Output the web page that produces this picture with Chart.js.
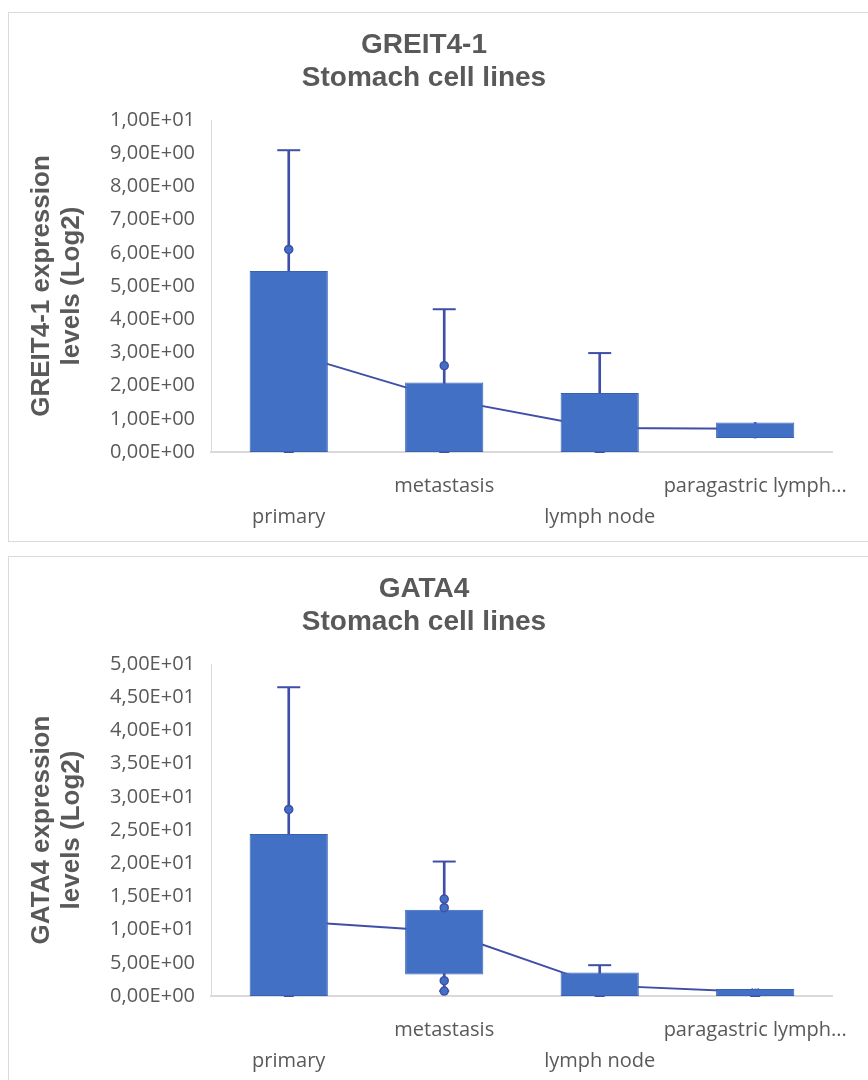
<!DOCTYPE html>
<html>
<head>
<meta charset="utf-8">
<script src="https://cdn.jsdelivr.net/npm/chart.js@4.4.1/dist/chart.umd.min.js"></script>
<style>
  body { margin: 0; background: #fff; overflow: hidden; }
  .panel { position: absolute; left: 8px; width: 880px; border: 1px solid #d9d9d9; background: #fff; }
  .panel canvas { display: block; }
  #panel1 { top: 12px; height: 528px; }
  #panel2 { top: 556px; height: 600px; }
</style>
</head>
<body>
<div class="panel" id="panel1"><canvas id="greitChart" width="860" height="528"></canvas></div>
<div class="panel" id="panel2"><canvas id="gataChart" width="860" height="528"></canvas></div>
<script>
const categories = ['primary', 'metastasis', 'lymph node', 'paragastric lymph node'];

// GREIT4-1 box & whisker stats
const greitMin = [0, 0, 0, 0.42];
const greitQ1 = [0, 0, 0, 0.42];
const greitQ3 = [5.45, 2.09, 1.78, 0.89];
const greitMax = [9.09, 4.3, 2.98, 0.89];
const greitMean = [3.0, 1.6, 0.72, 0.7];
const greitPoints = [
    { x: 'primary', y: 6.1 },
    { x: 'metastasis', y: 2.6 }
];

// GATA4 box & whisker stats
const gataMin = [0, 0.75, 0, 0];
const gataQ1 = [0, 3.25, 0, 0];
const gataQ3 = [24.4, 13.0, 3.55, 1.05];
const gataMax = [46.5, 20.25, 4.64, 1.05];
const gataMean = [11.3, 9.75, 1.6, 0.6];
const gataPoints = [
    { x: 'primary', y: 28.1 },
    { x: 'metastasis', y: 14.6 },
    { x: 'metastasis', y: 13.3 },
    { x: 'metastasis', y: 2.3 },
    { x: 'metastasis', y: 0.75 }
];

const BOX = '#4270C4';
const EDGE = '#3A60B6';
const LINE = '#3F4FA8';
const TEXT = '#595959';
const AXIS = '#d9d9d9';

// 1,00E+01 style labels
function sciLabel(value) {
    if (value === 0) return '0,00E+00';
    const exp = Math.floor(Math.log10(Math.abs(value)) + 1e-9);
    const mant = value / Math.pow(10, exp);
    const sign = exp < 0 ? '-' : '+';
    return mant.toFixed(2).replace('.', ',') + 'E' + sign + String(Math.abs(exp)).padStart(2, '0');
}

function buildChart(canvasId, titleLines, axisTitle, yMax, yStep, s) {
    const ctx = document.getElementById(canvasId).getContext('2d');
    // no cap where the whisker has no length
    const topCaps = s.max.map((v, i) => (v > s.q3[i] ? v : null));
    const lowCaps = s.min.map((v, i) => (v < s.q1[i] || v === 0 ? v : null));
    return new Chart(ctx, {
        type: 'bar',
        data: {
            labels: categories,
            datasets: [
                {
                    type: 'line',
                    label: 'Points',
                    data: s.points,
                    showLine: false,
                    pointStyle: 'circle',
                    pointRadius: 4,
                    pointBackgroundColor: BOX,
                    pointBorderColor: LINE,
                    pointBorderWidth: 1.5,
                    order: 0
                },
                {
                    label: 'Box',
                    data: s.q1.map((v, i) => [v, s.q3[i]]),
                    backgroundColor: BOX,
                    borderColor: EDGE,
                    borderWidth: 1,
                    borderSkipped: false,
                    grouped: false,
                    barPercentage: 0.503,
                    categoryPercentage: 1,
                    order: 1
                },
                {
                    type: 'line',
                    label: 'Mean',
                    data: s.mean,
                    borderColor: LINE,
                    borderWidth: 2,
                    pointStyle: 'crossRot',
                    pointRadius: 5,
                    pointBorderColor: LINE,
                    pointBorderWidth: 1.5,
                    order: 2
                },
                {
                    type: 'line',
                    label: 'Max cap',
                    data: topCaps,
                    showLine: false,
                    pointStyle: 'line',
                    pointRadius: 11.5,
                    pointBorderColor: LINE,
                    pointBorderWidth: 2,
                    clip: false,
                    order: 3
                },
                {
                    type: 'line',
                    label: 'Min cap',
                    data: lowCaps,
                    showLine: false,
                    pointStyle: 'line',
                    pointRadius: 5,
                    pointBorderColor: LINE,
                    pointBorderWidth: 2,
                    clip: false,
                    order: 3
                },
                {
                    label: 'Whisker',
                    data: s.min.map((v, i) => [v, s.max[i]]),
                    backgroundColor: LINE,
                    barThickness: 2,
                    grouped: false,
                    order: 4
                }
            ]
        },
        options: {
            responsive: false,
            animation: false,
            events: [],
            layout: { padding: { top: 0, right: 30, bottom: 0, left: 0 } },
            plugins: {
                legend: { display: false },
                tooltip: { enabled: false },
                title: {
                    display: true,
                    text: titleLines,
                    color: TEXT,
                    font: { family: "'Liberation Sans', Arial, sans-serif", size: 28, weight: 'bold', lineHeight: 33 / 28 },
                    padding: { top: 16, bottom: 25 }
                }
            },
            scales: {
                x: {
                    offset: true,
                    grid: { display: false, drawTicks: false },
                    border: { color: AXIS, width: 2 },
                    afterFit: (scale) => { scale.height = 89; },
                    ticks: {
                        autoSkip: false,
                        maxRotation: 0,
                        padding: 18.5,
                        color: TEXT,
                        font: { family: "'Open Sans', sans-serif", size: 20, lineHeight: 1.55 },
                        callback: function(value, index) {
                            let label = this.getLabelForValue(value);
                            if (label.length > 17) label = label.slice(0, 17) + '...';
                            return index % 2 === 0 ? ['', label] : label;
                        }
                    }
                },
                y: {
                    min: 0,
                    max: yMax,
                    grid: { display: false, drawTicks: false },
                    border: { color: AXIS, width: 1 },
                    afterFit: (scale) => { scale.width = 202; },
                    ticks: {
                        stepSize: yStep,
                        padding: 16,
                        color: TEXT,
                        font: { family: "'Open Sans', sans-serif", size: 20 },
                        callback: (value) => sciLabel(value)
                    },
                    title: {
                        display: true,
                        text: axisTitle,
                        color: TEXT,
                        font: { family: "'Liberation Sans', Arial, sans-serif", size: 26, weight: 'bold', lineHeight: 30 / 26 },
                        padding: { top: 18, bottom: 0 }
                    }
                }
            }
        }
    });
}

buildChart('greitChart', ['GREIT4-1', 'Stomach cell lines'], ['GREIT4-1 expression', 'levels (Log2)'], 10, 1, {
    min: greitMin, q1: greitQ1, q3: greitQ3, max: greitMax, mean: greitMean, points: greitPoints
});

buildChart('gataChart', ['GATA4', 'Stomach cell lines'], ['GATA4 expression', 'levels (Log2)'], 50, 5, {
    min: gataMin, q1: gataQ1, q3: gataQ3, max: gataMax, mean: gataMean, points: gataPoints
});
</script>
</body>
</html>
